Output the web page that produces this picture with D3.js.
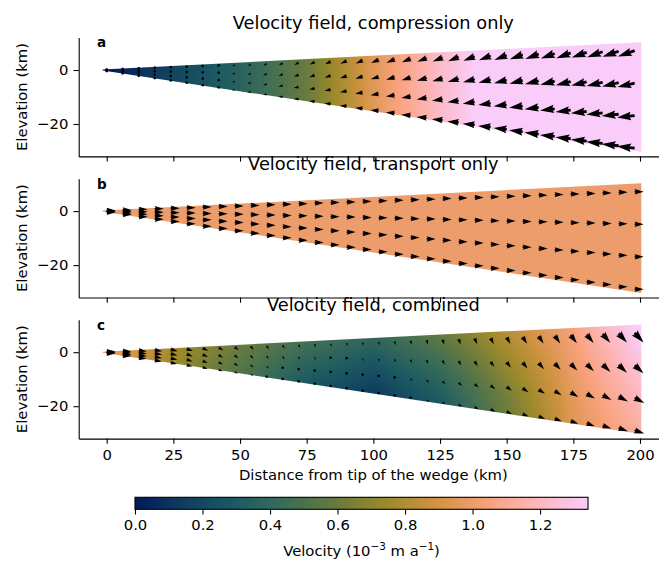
<!DOCTYPE html>
<html>
<head>
<meta charset="utf-8">
<script src="https://cdn.jsdelivr.net/npm/d3@7"></script>
<style>
  body { margin: 0; background: #fff; }
  svg text { font-family: "DejaVu Sans", sans-serif; fill: #000; }
</style>
</head>
<body>
<svg id="chart" width="659" height="562"></svg>
<script>
// quiver grid: a column every 6 km, four levels through the wedge (fraction of thickness from the top)
const columnsKm = [0, 6, 12, 18, 24, 30, 36, 42, 48, 54, 60, 66, 72, 78, 84, 90, 96,
  102, 108, 114, 120, 126, 132, 138, 144, 150, 156, 162, 168, 174, 180, 186, 192, 198];
const levelFractions = [0.075, 0.375, 0.675, 0.975];

// wedge outline (km)
const wedgeX = [-1.5, 200.5];
const wedgeTop = [0.2, 10.3];
const wedgeBase = [-0.2, -30.3];

// speed field behind the arrows, nodes at shadeX (km) and shadeLevels (fraction of thickness)
const shadeX = [0, 25, 50, 75, 100, 125, 150, 175, 200];
const shadeLevels = [0, 0.25, 0.5, 0.75, 1];
const shadeCompression = [
  [0.00, 0.18, 0.36, 0.60, 0.95, 1.22, 1.45, 1.70, 1.95],
  [0.00, 0.18, 0.36, 0.60, 0.95, 1.22, 1.45, 1.70, 1.95],
  [0.00, 0.18, 0.36, 0.60, 0.95, 1.22, 1.45, 1.70, 1.95],
  [0.00, 0.18, 0.36, 0.60, 0.95, 1.22, 1.45, 1.70, 1.95],
  [0.00, 0.18, 0.36, 0.60, 0.95, 1.22, 1.45, 1.70, 1.95]
];
const shadeTransport = [
  [1.00, 1.00, 1.00, 1.00, 1.00, 1.00, 1.00, 1.00, 1.00],
  [1.00, 1.00, 1.00, 1.00, 1.00, 1.00, 1.00, 1.00, 1.00],
  [1.00, 1.00, 1.00, 1.00, 1.00, 1.00, 1.00, 1.00, 1.00],
  [1.00, 1.00, 1.00, 1.00, 1.00, 1.00, 1.00, 1.00, 1.00],
  [1.00, 1.00, 1.00, 1.00, 1.00, 1.00, 1.00, 1.00, 1.00]
];
const shadeCombined = [
  [1.00, 0.76, 0.60, 0.47, 0.40, 0.58, 0.82, 1.05, 1.38],
  [1.00, 0.76, 0.58, 0.43, 0.33, 0.50, 0.76, 1.02, 1.30],
  [1.00, 0.76, 0.56, 0.38, 0.26, 0.42, 0.70, 0.99, 1.24],
  [1.00, 0.75, 0.54, 0.33, 0.19, 0.35, 0.64, 0.96, 1.18],
  [1.00, 0.75, 0.52, 0.29, 0.13, 0.30, 0.60, 0.94, 1.13]
];

// arrows: speed (10^-3 m/a) and direction (degrees, 0 = right, 90 = up), one row per level
const compressionSpeed = [0.00, 0.04, 0.07, 0.11, 0.15, 0.19, 0.23, 0.28, 0.33, 0.38, 0.44, 0.50,
  0.56, 0.63, 0.70, 0.77, 0.85, 0.92, 0.99, 1.06, 1.13, 1.20, 1.27, 1.34, 1.40, 1.46, 1.52,
  1.58, 1.64, 1.70, 1.76, 1.83, 1.90, 1.97];
const compressionAngle = [
  [-140, -140, -140, -140, -140, -140, -142, -144, -146, -148, -150, -151, -152, -153, -154, -155, -156,
   -156, -157, -157, -158, -158, -158, -159, -159, -159, -160, -160, -160, -160, -161, -161, -161, -161],
  [-145, -145, -145, -145, -146, -147, -148, -150, -152, -154, -156, -157, -158, -159, -160, -161, -162,
   -162, -163, -163, -164, -164, -164, -165, -165, -165, -166, -166, -166, -166, -167, -167, -167, -167],
  [-150, -150, -151, -152, -153, -155, -157, -159, -161, -163, -165, -166, -167, -168, -169, -169, -170,
   -170, -171, -171, -171, -172, -172, -172, -172, -173, -173, -173, -173, -173, -174, -174, -174, -174],
  [-160, -160, -162, -164, -166, -168, -170, -172, -174, -176, -178, -179, 180, 179, 178, 178, 177,
   177, 176, 176, 176, 175, 175, 175, 175, 174, 174, 174, 174, 174, 174, 174, 174, 174]
];
const transportSpeed = [1.00, 1.00, 1.00, 1.00, 1.00, 1.00, 1.00, 1.00, 1.00, 1.00, 1.00, 1.00,
  1.00, 1.00, 1.00, 1.00, 1.00, 1.00, 1.00, 1.00, 1.00, 1.00, 1.00, 1.00, 1.00, 1.00, 1.00,
  1.00, 1.00, 1.00, 1.00, 1.00, 1.00, 1.00];
const transportAngle = [0, 0, 0, 0, 0, 0, 0, 0, 0, 0, 0, 0, 0, 0, 0, 0, 0,
  0, 0, 0, 0, 0, 0, 0, 0, 0, 0, 0, 0, 0, 0, 0, 0, 0];
const combinedSpeed = [
  [0.98, 0.95, 0.90, 0.85, 0.80, 0.74, 0.68, 0.62, 0.56, 0.50, 0.46, 0.42, 0.40, 0.38, 0.37, 0.37, 0.38,
   0.40, 0.43, 0.47, 0.52, 0.58, 0.64, 0.70, 0.77, 0.84, 0.91, 0.98, 1.06, 1.13, 1.21, 1.29, 1.37, 1.45],
  [0.98, 0.95, 0.90, 0.84, 0.78, 0.72, 0.65, 0.58, 0.52, 0.46, 0.41, 0.37, 0.34, 0.32, 0.31, 0.31, 0.32,
   0.34, 0.37, 0.41, 0.46, 0.52, 0.58, 0.64, 0.71, 0.78, 0.85, 0.92, 0.99, 1.06, 1.13, 1.20, 1.26, 1.32],
  [0.98, 0.95, 0.89, 0.83, 0.76, 0.69, 0.62, 0.54, 0.47, 0.40, 0.34, 0.29, 0.25, 0.22, 0.20, 0.20, 0.21,
   0.24, 0.28, 0.33, 0.39, 0.45, 0.52, 0.58, 0.65, 0.71, 0.78, 0.85, 0.92, 0.99, 1.05, 1.11, 1.17, 1.22],
  [0.98, 0.95, 0.88, 0.81, 0.74, 0.66, 0.58, 0.50, 0.42, 0.35, 0.28, 0.22, 0.17, 0.13, 0.10, 0.10, 0.12,
   0.16, 0.21, 0.26, 0.32, 0.39, 0.46, 0.53, 0.60, 0.66, 0.72, 0.78, 0.84, 0.90, 0.96, 1.02, 1.08, 1.13]
];
const combinedAngle = [
  [0, -3, -6, -10, -15, -20, -26, -32, -38, -45, -52, -58, -64, -70, -75, -78, -80,
   -80, -79, -77, -75, -72, -69, -66, -63, -60, -58, -56, -54, -52, -50, -49, -48, -47],
  [0, -3, -6, -10, -15, -20, -26, -32, -38, -45, -52, -58, -63, -68, -72, -74, -75,
   -74, -72, -70, -67, -64, -61, -58, -55, -53, -51, -49, -47, -46, -45, -44, -43, -42],
  [0, -3, -6, -10, -14, -18, -23, -28, -33, -38, -43, -48, -52, -55, -57, -58, -58,
   -56, -54, -51, -48, -45, -42, -40, -38, -36, -34, -33, -32, -31, -30, -29, -28, -28],
  [0, -3, -6, -9, -12, -15, -18, -22, -26, -30, -34, -38, -42, -45, -47, -48, -47,
   -45, -42, -39, -36, -33, -30, -28, -26, -24, -23, -22, -21, -20, -20, -19, -19, -19]
];

const panelTitles = ["Velocity field, compression only", "Velocity field, transport only", "Velocity field, combined"];
const panelLetters = ["a", "b", "c"];
const xTicks = [0, 25, 50, 75, 100, 125, 150, 175, 200];
const yTicks = [-20, 0];
const colorbarTicks = [0, 0.2, 0.4, 0.6, 0.8, 1.0, 1.2];
const colorbarMax = 1.342;
// batlow colour map anchors
const batlow = ["#011959", "#103F60", "#1C5A62", "#3C6D56", "#687B3E", "#9D8A2B", "#D29343", "#F8A17B", "#FDB7BC", "#FACCFA"];

const panels = [
  { field: shadeCompression, speed: [compressionSpeed, compressionSpeed, compressionSpeed, compressionSpeed], angle: compressionAngle },
  { field: shadeTransport, speed: [transportSpeed, transportSpeed, transportSpeed, transportSpeed], angle: [transportAngle, transportAngle, transportAngle, transportAngle] },
  { field: shadeCombined, speed: combinedSpeed, angle: combinedAngle }
];

const svg = d3.select("#chart");
const fs = 14.8;
const left = 78.7, right = 668, panelH = 118.8;
const panelTops = [37.6, 178.7, 319.8];
const arrowScale = 9.0;   // px per velocity unit
const shaftW = 2.8;       // arrow shaft width, px

const x = d3.scaleLinear().domain([-10.5, 210.5]).range([left, right]);
const topAt = d3.scaleLinear().domain(wedgeX).range(wedgeTop);
const baseAt = d3.scaleLinear().domain(wedgeX).range(wedgeBase);
const color = d3.scaleLinear()
  .domain(batlow.map((_, i) => i / (batlow.length - 1) * colorbarMax))
  .range(batlow)
  .interpolate(d3.interpolateRgb)
  .clamp(true);
const colIndex = d3.scaleLinear().domain(shadeX).range(d3.range(shadeX.length)).clamp(true);
const levIndex = d3.scaleLinear().domain(shadeLevels).range(d3.range(shadeLevels.length)).clamp(true);

function fieldAt(grid, xk, f) {
  const ci = colIndex(xk), li = levIndex(f);
  const c0 = Math.min(Math.floor(ci), shadeX.length - 2), l0 = Math.min(Math.floor(li), shadeLevels.length - 2);
  const tc = ci - c0, tl = li - l0;
  const a = grid[l0][c0] * (1 - tc) + grid[l0][c0 + 1] * tc;
  const b = grid[l0 + 1][c0] * (1 - tc) + grid[l0 + 1][c0 + 1] * tc;
  return a * (1 - tl) + b * tl;
}

function arrowPoints(lenPx) {
  const L = lenPx / shaftW;
  let pts;
  if (L < 1) {
    pts = d3.range(6).map(k => [Math.cos(k * Math.PI / 3) * 0.5, Math.sin(k * Math.PI / 3) * 0.5]);
  } else if (L < 5) {
    const s = L / 5;
    pts = [[0, .5], [.5, .5], [0, 1.5], [5, 0], [0, -1.5], [.5, -.5], [0, -.5]].map(p => [p[0] * s, p[1] * s]);
  } else {
    pts = [[0, .5], [L - 4.5, .5], [L - 5, 1.5], [L, 0], [L - 5, -1.5], [L - 4.5, -.5], [0, -.5]];
  }
  return pts.map(p => [p[0] * shaftW, p[1] * shaftW]);
}

const defs = svg.append("defs");

panels.forEach((p, k) => {
  const top = panelTops[k];
  const y = d3.scaleLinear().domain([-32, 12]).range([top + panelH, top]);
  const g = svg.append("g");

  // shaded wedge
  const x0 = Math.floor(x(wedgeX[0])), x1 = Math.ceil(x(wedgeX[1]));
  const y0 = Math.floor(y(wedgeTop[1])), y1 = Math.ceil(y(wedgeBase[1]));
  const cw = x1 - x0, ch = y1 - y0;
  const canvas = document.createElement("canvas");
  canvas.width = cw; canvas.height = ch;
  const ctx = canvas.getContext("2d");
  const img = ctx.createImageData(cw, ch);
  for (let i = 0; i < cw; i++) {
    const xk = x.invert(x0 + i + 0.5);
    const t = topAt(xk), b = baseAt(xk);
    for (let j = 0; j < ch; j++) {
      const yk = y.invert(y0 + j + 0.5);
      const f = Math.max(0, Math.min(1, (t - yk) / (t - b)));
      const c = d3.rgb(color(fieldAt(p.field, xk, f)));
      const o = (j * cw + i) * 4;
      img.data[o] = c.r; img.data[o + 1] = c.g; img.data[o + 2] = c.b; img.data[o + 3] = 255;
    }
  }
  ctx.putImageData(img, 0, 0);

  defs.append("clipPath").attr("id", "wedge" + k)
    .append("polygon")
    .attr("points", [
      [x(wedgeX[0]), y(wedgeTop[0])], [x(wedgeX[1]), y(wedgeTop[1])],
      [x(wedgeX[1]), y(wedgeBase[1])], [x(wedgeX[0]), y(wedgeBase[0])]
    ].map(q => q.join(",")).join(" "));

  g.append("image")
    .attr("x", x0).attr("y", y0).attr("width", cw).attr("height", ch)
    .attr("preserveAspectRatio", "none")
    .attr("href", canvas.toDataURL())
    .attr("clip-path", `url(#wedge${k})`);

  // arrows
  const arrows = [];
  levelFractions.forEach((f, j) => {
    columnsKm.forEach((xk, i) => {
      const t = topAt(xk), b = baseAt(xk);
      arrows.push({ xk, yk: t - f * (t - b), s: p.speed[j][i], a: p.angle[j][i] });
    });
  });
  g.append("g").selectAll("polygon")
    .data(arrows)
    .join("polygon")
    .attr("points", d => arrowPoints(d.s * arrowScale).map(q => q.join(",")).join(" "))
    .attr("transform", d => `translate(${x(d.xk)},${y(d.yk)}) rotate(${-d.a})`)
    .attr("fill", "#000");

  // axes
  const xa = g.append("g")
    .attr("transform", `translate(0,${top + panelH})`)
    .call(d3.axisBottom(x).tickValues(xTicks).tickSize(5.2).tickPadding(5.2).tickSizeOuter(0));
  if (k < 2) xa.selectAll(".tick text").remove();
  const ya = g.append("g")
    .attr("transform", `translate(${left},0)`)
    .call(d3.axisLeft(y).tickValues(yTicks).tickSize(5.2).tickPadding(5.2).tickSizeOuter(0));
  [xa, ya].forEach(a => {
    a.attr("font-size", fs).attr("font-family", null);
    a.selectAll("path, line").attr("stroke", "#000").attr("stroke-width", 1.1);
  });

  g.append("text")
    .attr("x", (left + right) / 2).attr("y", top - 8.9)
    .attr("text-anchor", "middle")
    .attr("font-size", 17.8)
    .text(panelTitles[k]);

  g.append("text")
    .attr("x", 97).attr("y", top + 9.8)
    .attr("font-size", 13.5).attr("font-weight", "bold")
    .text(panelLetters[k]);

  g.append("text")
    .attr("transform", `translate(27,${top + panelH / 2}) rotate(-90)`)
    .attr("text-anchor", "middle")
    .attr("font-size", fs)
    .text("Elevation (km)");
});

svg.append("text")
  .attr("x", (left + right) / 2).attr("y", 479.5)
  .attr("text-anchor", "middle")
  .attr("font-size", fs)
  .text("Distance from tip of the wedge (km)");

// colour bar
const cb = d3.scaleLinear().domain([0, colorbarMax]).range([135, 588]);
const cbTop = 497.3, cbH = 12;
const grad = defs.append("linearGradient").attr("id", "cbgrad");
d3.range(0, 1.0001, 0.02).forEach(t => {
  grad.append("stop").attr("offset", t).attr("stop-color", color(t * colorbarMax));
});
svg.append("rect")
  .attr("x", cb.range()[0]).attr("y", cbTop)
  .attr("width", cb.range()[1] - cb.range()[0]).attr("height", cbH)
  .attr("fill", "url(#cbgrad)")
  .attr("stroke", "#000").attr("stroke-width", 1.1);
const cba = svg.append("g")
  .attr("transform", `translate(0,${cbTop + cbH})`)
  .call(d3.axisBottom(cb).tickValues(colorbarTicks).tickFormat(d3.format(".1f")).tickSize(5.2).tickPadding(5.2).tickSizeOuter(0));
cba.select(".domain").remove();
cba.attr("font-size", fs).attr("font-family", null);
cba.selectAll("line").attr("stroke", "#000").attr("stroke-width", 1.1);

const lab = svg.append("text")
  .attr("x", 361.5).attr("y", 556)
  .attr("text-anchor", "middle")
  .attr("font-size", fs);
lab.append("tspan").text("Velocity (10");
lab.append("tspan").attr("dy", -6).attr("font-size", 10.4).text("\u22123");
lab.append("tspan").attr("dy", 6).text(" m a");
lab.append("tspan").attr("dy", -6).attr("font-size", 10.4).text("\u22121");
lab.append("tspan").attr("dy", 6).text(")");
</script>
</body>
</html>
